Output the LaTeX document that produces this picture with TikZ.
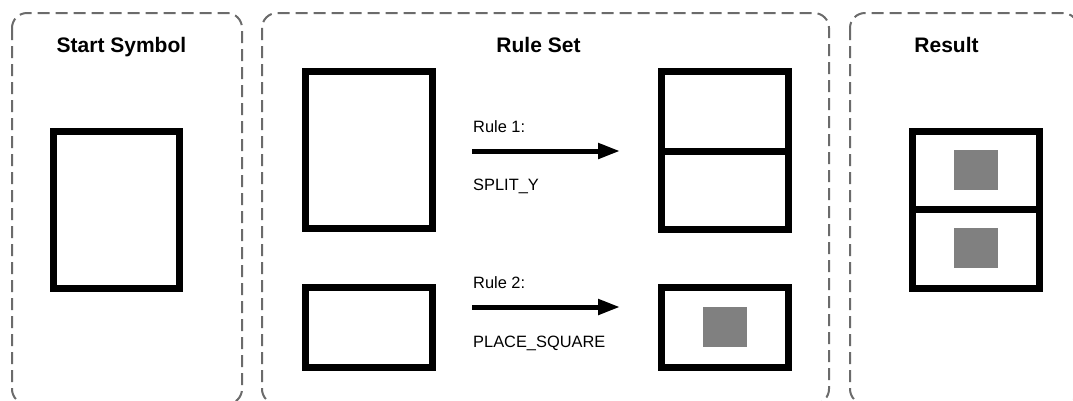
\documentclass[tikz,border=0pt]{standalone}
\usepackage{fontspec}
\setmainfont{Liberation Sans}
\usetikzlibrary{arrows.meta}
\tikzset{
  panel/.style={draw=black!58, line width=2pt, dash pattern=on 12pt off 6pt, rounded corners=15pt},
  blockbox/.style={draw=black, line width=7pt, rectangle, inner sep=0pt, outer sep=0pt},
  fillsq/.style={fill=black!50, draw=none, rectangle, inner sep=0pt, outer sep=0pt, minimum width=44pt, minimum height=40pt},
  title/.style={font=\fontsize{21}{24}\selectfont\bfseries, anchor=base, inner sep=0pt},
  lbl/.style={font=\fontsize{16.4}{19}\selectfont, anchor=base west, inner sep=0pt},
  rulearrow/.style={line width=5pt, -{Triangle[length=22pt,width=15pt]}}
}
\begin{document}
\begin{tikzpicture}[x=1pt,y=-1pt]
\useasboundingbox (0,0) rectangle (1073,400);
\clip (0,0) rectangle (1073,400);
% panels
\draw[panel] (12,13) rectangle (242,404);
\draw[panel] (262,13) rectangle (829,404);
\draw[panel] (850,13) rectangle (1078,404);
% titles
\node[title] (t1) at (121.5,52.5) {Start Symbol};
\node[title] (t2) at (538.5,52.5) {Rule Set};
\node[title] (t3) at (946.5,52.5) {Result};
% start symbol
\node[blockbox, minimum width=126pt, minimum height=157pt] (start) at (116.5,210) {};
% rule 1
\node[blockbox, minimum width=127pt, minimum height=157pt] (r1l) at (369,150) {};
\node[blockbox, minimum width=127pt, minimum height=158pt] (r1r) at (725,150.5) {};
\draw[line width=7pt] (r1r.west |- 0,151) -- (r1r.east |- 0,151);
\coordinate (a1s) at (472,151);
\coordinate (a1e) at (620,151);
\draw[rulearrow] (a1s) -- (a1e);
\node[lbl] (l1a) at (473,132) {Rule 1:};
\node[lbl] (l1b) at (473,190) {SPLIT\_Y};
% rule 2
\node[blockbox, minimum width=127pt, minimum height=80pt] (r2l) at (369,327.5) {};
\node[blockbox, minimum width=127pt, minimum height=80pt] (r2r) at (725,327.5) {};
\node[fillsq] (sq1) at (725,327) {};
\coordinate (a2s) at (472,307);
\coordinate (a2e) at (620,307);
\draw[rulearrow] (a2s) -- (a2e);
\node[lbl] (l2a) at (473,288) {Rule 2:};
\node[lbl] (l2b) at (473,347) {PLACE\_SQUARE};
% result
\node[blockbox, minimum width=127pt, minimum height=157pt] (res) at (976,210) {};
\draw[line width=7pt] (res.west |- 0,209) -- (res.east |- 0,209);
\node[fillsq] (sq2) at (976,170) {};
\node[fillsq] (sq3) at (976,248) {};
\end{tikzpicture}
\end{document}
